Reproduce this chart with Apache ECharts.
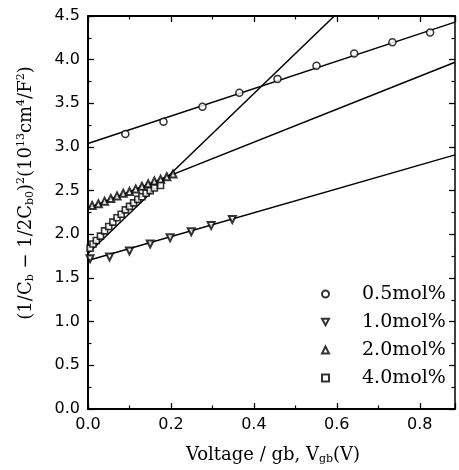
<!DOCTYPE html>
<html>
<head>
<meta charset="utf-8">
<script src="https://cdn.jsdelivr.net/npm/echarts@6/dist/echarts.min.js"></script>
<style>html,body{margin:0;padding:0;background:#fff}#c{width:459px;height:470px}</style>
</head>
<body>
<div id="c"></div>
<script>
// ---- data ----
const seriesNames = ['0.5mol%', '1.0mol%', '2.0mol%', '4.0mol%'];
const xTicks = [0.0, 0.2, 0.4, 0.6, 0.8];
const yTicks = [0.0, 0.5, 1.0, 1.5, 2.0, 2.5, 3.0, 3.5, 4.0, 4.5];

const x05 = [0.090, 0.182, 0.276, 0.365, 0.457, 0.551, 0.642, 0.734, 0.825];
const y05 = [3.15, 3.29, 3.46, 3.62, 3.78, 3.93, 4.07, 4.20, 4.31];

const x10 = [0.005, 0.052, 0.100, 0.150, 0.198, 0.249, 0.297, 0.348];
const y10 = [1.72, 1.74, 1.81, 1.89, 1.96, 2.03, 2.10, 2.17];

const x20 = [0.010, 0.025, 0.040, 0.055, 0.070, 0.085, 0.100, 0.115, 0.130, 0.145, 0.160, 0.175, 0.190, 0.205];
const y20 = [2.33, 2.35, 2.38, 2.41, 2.44, 2.47, 2.49, 2.52, 2.55, 2.58, 2.61, 2.63, 2.66, 2.69];

const x40 = [0.005, 0.012, 0.020, 0.030, 0.040, 0.050, 0.060, 0.070, 0.080, 0.090, 0.100, 0.110, 0.120, 0.130, 0.140, 0.150, 0.160, 0.175];
const y40 = [1.84, 1.89, 1.93, 1.98, 2.04, 2.09, 2.14, 2.19, 2.23, 2.28, 2.32, 2.36, 2.40, 2.43, 2.47, 2.50, 2.53, 2.56];

// fitted straight lines (end points)
const fit05 = [[0, 3.04], [0.885, 4.43]];
const fit10 = [[0, 1.70], [0.885, 2.91]];
const fit20 = [[0, 2.30], [0.885, 3.97]];
const fit40 = [[0, 1.78], [0.594, 4.50]];

const xMin = 0, xMax = 0.885, yMin = 0, yMax = 4.5;

function pts(xs, ys) { return xs.map((x, i) => [x, ys[i]]); }

const chart = echarts.init(document.getElementById('c'), null, {renderer: 'canvas'});
const serif = '"DejaVu Serif", "Liberation Serif", serif';
const sans = '"DejaVu Sans", "Liberation Sans", sans-serif';

function xAxisCfg(pos, showLabel, lw) {
  return {
    type: 'value', position: pos, min: xMin, max: xMax, interval: 0.2,
    axisLine: {show: true, onZero: false, lineStyle: {color: '#000', width: lw}},
    axisTick: {show: true, inside: true, length: 6, lineStyle: {color: '#000', width: 1.3}},
    minorTick: {show: true, splitNumber: 2, length: 3.5, lineStyle: {color: '#000', width: 1.2}},
    splitLine: {show: false},
    axisLabel: {show: showLabel, color: '#000', fontFamily: sans, fontSize: 16, margin: 8, showMaxLabel: false,
      formatter: v => xTicks.some(t => Math.abs(t - v) < 1e-6) ? v.toFixed(1) : ''}
  };
}
function yAxisCfg(pos, showLabel, lw) {
  return {
    type: 'value', position: pos, min: yMin, max: yMax, interval: 0.5,
    axisLine: {show: true, onZero: false, lineStyle: {color: '#000', width: lw}},
    axisTick: {show: true, inside: true, length: 6, lineStyle: {color: '#000', width: 1.3}},
    minorTick: {show: true, splitNumber: 2, length: 3.5, lineStyle: {color: '#000', width: 1.2}},
    splitLine: {show: false},
    axisLabel: {show: showLabel, color: '#000', fontFamily: sans, fontSize: 16, margin: 8,
      formatter: v => yTicks.some(t => Math.abs(t - v) < 1e-6) ? v.toFixed(1) : ''}
  };
}

const lineStyle = {color: '#000', width: 1.5};

function fitSeries(d) {
  return {type: 'line', data: d, showSymbol: false, symbol: 'none', silent: true,
    lineStyle: lineStyle, z: 2, xAxisIndex: 0, yAxisIndex: 0, animation: false};
}
function scatterSeries(name, d, symbol, size, bw) {
  return {type: 'scatter', name: name, data: d, symbol: symbol, symbolSize: size,
    itemStyle: {color: '#fff', borderColor: '#000', borderWidth: bw}, z: 3, xAxisIndex: 0, yAxisIndex: 0, animation: false};
}

const option = {
  animation: false,
  backgroundColor: '#fff',
  grid: {left: 88, right: 4, top: 16, bottom: 61, containLabel: false},
  xAxis: [xAxisCfg('bottom', true, 2), xAxisCfg('top', false, 1.8)],
  yAxis: [yAxisCfg('left', true, 2), yAxisCfg('right', false, 1.5)],
  legend: {
    data: seriesNames, orient: 'vertical', left: 321, top: 284, padding: 0,
    itemWidth: 7, itemHeight: 7, itemGap: 8,
    textStyle: {color: '#000', fontFamily: serif, fontSize: 19, lineHeight: 20, padding: [0, 0, 0, 28]},
    selectedMode: false
  },
  series: [
    fitSeries(fit05), fitSeries(fit10), fitSeries(fit20), fitSeries(fit40),
    scatterSeries(seriesNames[0], pts(x05, y05), 'circle', 7, 1.5),
    scatterSeries(seriesNames[1], pts(x10, y10), 'path://M0,0 L10,0 L5,9 Z', 7, 2),
    scatterSeries(seriesNames[2], pts(x20, y20), 'triangle', 7, 2),
    scatterSeries(seriesNames[3], pts(x40, y40), 'rect', 6, 1.6)
  ],
  graphic: [
    {
      type: 'text', x: 26, y: 193, rotation: Math.PI / 2,
      style: {
        text: '(1/C{sub|b} − 1/2C{sub|b0}){sup|2}(10{sup|13}cm{sup|4}/F{sup|2})',
        fill: '#000', font: '18px ' + serif, align: 'center', verticalAlign: 'middle',
        rich: {
          sub: {fontSize: 11, fontFamily: serif, fill: '#000', padding: [8, 0, 0, 0]},
          sup: {fontSize: 11, fontFamily: serif, fill: '#000', padding: [0, 0, 9, 0]}
        }
      }
    },
    {
      type: 'text', x: 273, y: 455,
      style: {
        text: 'Voltage / gb, V{sub|gb}(V)',
        fill: '#000', font: '18px ' + serif, align: 'center', verticalAlign: 'middle',
        rich: {
          sub: {fontSize: 11, fontFamily: serif, fill: '#000', padding: [8, 0, 0, 0]}
        }
      }
    }
  ]
};
chart.setOption(option);
</script>
</body>
</html>
